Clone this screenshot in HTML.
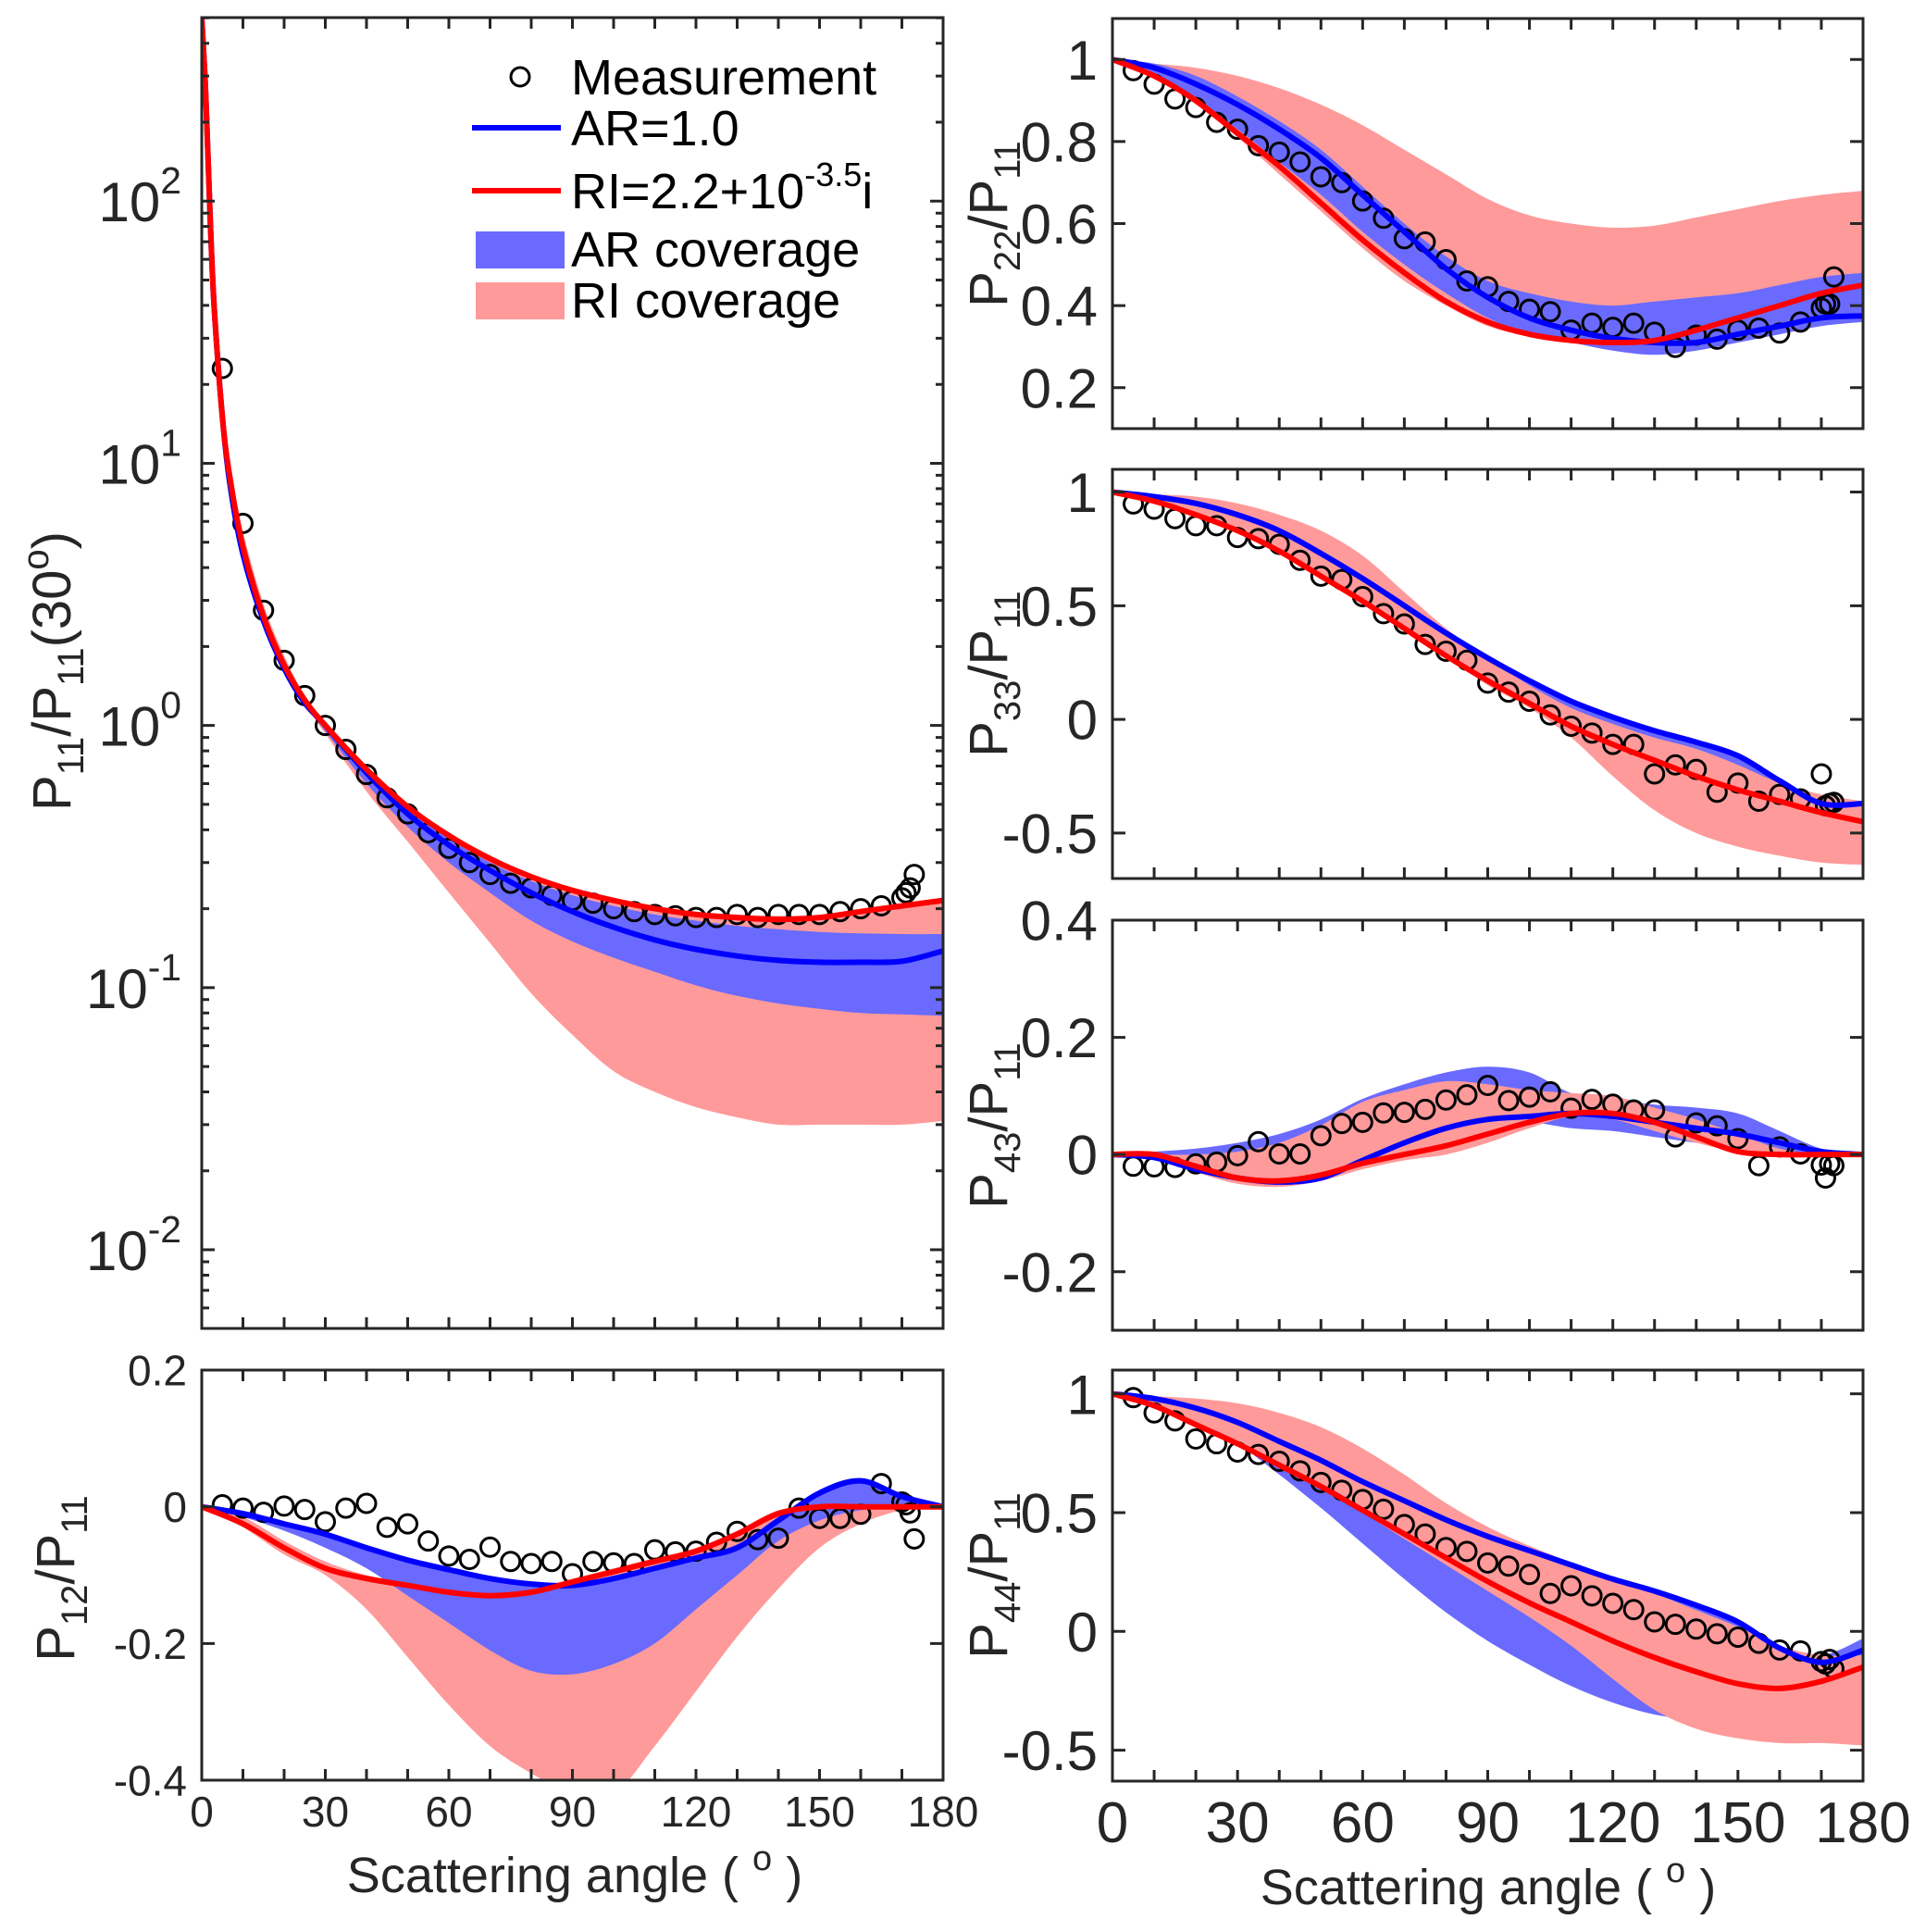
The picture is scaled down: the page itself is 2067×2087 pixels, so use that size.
<!DOCTYPE html>
<html><head><meta charset="utf-8"><style>
html,body{margin:0;padding:0;background:#fff}
svg{display:block}
text{font-family:"Liberation Sans",Arial,sans-serif;fill:#262626}
</style></head><body>
<svg id="fig" width="2067" height="2087" viewBox="0 0 2067 2087" xmlns="http://www.w3.org/2000/svg">
<defs id="defs"></defs>
<g id="root"></g>
<g>
  <text transform="translate(76,725) rotate(-90)" text-anchor="middle" font-size="58">P<tspan font-size="40" dy="14">11</tspan><tspan dy="-14">/P</tspan><tspan font-size="40" dy="14">11</tspan><tspan dy="-14">(30</tspan><tspan font-size="40" dy="-24">o</tspan><tspan dy="24">)</tspan></text>
  <text transform="translate(80,1705) rotate(-90)" text-anchor="middle" font-size="58">P<tspan font-size="40" dy="14">12</tspan><tspan dy="-14">/P</tspan><tspan font-size="40" dy="14">11</tspan></text>
  <text transform="translate(1088,242) rotate(-90)" text-anchor="middle" font-size="58">P<tspan font-size="40" dy="14">22</tspan><tspan dy="-14">/P</tspan><tspan font-size="40" dy="14">11</tspan></text>
  <text transform="translate(1088,728) rotate(-90)" text-anchor="middle" font-size="58">P<tspan font-size="40" dy="14">33</tspan><tspan dy="-14">/P</tspan><tspan font-size="40" dy="14">11</tspan></text>
  <text transform="translate(1088,1216) rotate(-90)" text-anchor="middle" font-size="58">P<tspan font-size="40" dy="14">43</tspan><tspan dy="-14">/P</tspan><tspan font-size="40" dy="14">11</tspan></text>
  <text transform="translate(1088,1702) rotate(-90)" text-anchor="middle" font-size="58">P<tspan font-size="40" dy="14">44</tspan><tspan dy="-14">/P</tspan><tspan font-size="40" dy="14">11</tspan></text>
  <text x="621" y="2044" text-anchor="middle" font-size="54">Scattering angle ( <tspan font-size="38" dy="-24">o</tspan><tspan dy="24"> )</tspan></text>
  <text x="1608" y="2057" text-anchor="middle" font-size="54">Scattering angle ( <tspan font-size="38" dy="-24">o</tspan><tspan dy="24"> )</tspan></text>
</g>
<g>
  <circle cx="562" cy="83" r="10" fill="none" stroke="#000" stroke-width="3"></circle>
  <text x="617" y="102" font-size="54" style="fill:#000">Measurement</text>
  <line x1="510" y1="138" x2="606" y2="138" stroke="#0000ff" stroke-width="6"></line>
  <text x="617" y="157" font-size="54" style="fill:#000">AR=1.0</text>
  <line x1="510" y1="206" x2="606" y2="206" stroke="#ff0000" stroke-width="6"></line>
  <text x="617" y="225" font-size="54" style="fill:#000">RI=2.2+10<tspan font-size="36" dy="-24">-3.5</tspan><tspan dy="24">i</tspan></text>
  <rect x="514" y="250" width="96" height="40" fill="#6a6aff"></rect>
  <text x="617" y="288" font-size="54" style="fill:#000">AR coverage</text>
  <rect x="514" y="305" width="96" height="40" fill="#ff9a9a"></rect>
  <text x="617" y="343" font-size="54" style="fill:#000">RI coverage</text>
</g>
</svg>
<script>
// ---------------- data ----------------
const measAngles = [5,10,15,20,25,30,35,40,45,50,55,60,65,70,75,80,85,90,95,100,105,110,115,120,125,130,135,140,145,150,155,160,165,170,171,172,173];
const grid = [0,10,20,30,40,50,60,70,80,90,100,110,120,130,140,150,160,170,180];
const p11Angles = [0,1,2,3,5,7,10,15,20,25,30,40,50,60,70,80,90,100,110,120,130,140,150,160,170,180];
const xTicks = [0,30,60,90,120,150,180];

// P11/P11(30)
const p11Meas = [23,5.9,2.75,1.77,1.3,1.0,0.81,0.65,0.53,0.46,0.39,0.34,0.30,0.27,0.25,0.24,0.225,0.215,0.21,0.2,0.195,0.19,0.188,0.185,0.185,0.19,0.185,0.19,0.19,0.19,0.195,0.2,0.205,0.22,0.23,0.24,0.27];
const p11Red = [500,250,90,40,15,8.5,4.8,2.6,1.7,1.25,1.0,0.68,0.49,0.38,0.31,0.265,0.235,0.215,0.2,0.19,0.185,0.182,0.185,0.195,0.205,0.215];
const p11Blue = [500,250,90,40,15,8,4.5,2.5,1.65,1.22,1.0,0.66,0.46,0.35,0.28,0.23,0.195,0.17,0.152,0.14,0.132,0.127,0.125,0.125,0.126,0.138];
const p11ArUp = [500,250,90,40,15,8.5,4.8,2.6,1.7,1.25,1.0,0.68,0.48,0.37,0.3,0.255,0.225,0.205,0.19,0.18,0.172,0.167,0.163,0.161,0.16,0.16];
const p11ArLo = [500,250,90,40,14,7.5,4.2,2.4,1.6,1.2,0.95,0.6,0.41,0.3,0.23,0.18,0.15,0.13,0.115,0.102,0.093,0.087,0.083,0.08,0.079,0.078];
const p11RiUp = [500,260,95,42,16,9.5,5.5,2.9,1.85,1.3,1.02,0.7,0.5,0.39,0.32,0.27,0.24,0.22,0.205,0.195,0.19,0.188,0.19,0.2,0.21,0.22];
const p11RiLo = [500,240,85,38,14,7.5,4.2,2.4,1.6,1.2,0.93,0.56,0.36,0.23,0.148,0.095,0.066,0.048,0.04,0.035,0.032,0.03,0.03,0.03,0.03,0.031];
const p11YTicks = [-2,-1,0,1,2];

// P12/P11
const p12Meas = [0.003,-0.002,-0.008,0.001,-0.004,-0.022,-0.002,0.005,-0.03,-0.025,-0.05,-0.072,-0.077,-0.059,-0.08,-0.083,-0.08,-0.098,-0.08,-0.082,-0.083,-0.063,-0.066,-0.065,-0.052,-0.036,-0.048,-0.046,-0.002,-0.017,-0.017,-0.011,0.034,0.007,0.003,-0.009,-0.047];
const p12Blue = [0,-0.01,-0.025,-0.04,-0.06,-0.078,-0.092,-0.105,-0.113,-0.115,-0.105,-0.09,-0.075,-0.06,-0.02,0.02,0.038,0.015,0];
const p12Red = [0,-0.025,-0.06,-0.09,-0.105,-0.115,-0.125,-0.13,-0.125,-0.11,-0.095,-0.08,-0.065,-0.04,-0.01,0,0,0,0];
const p12ArUp = [0,-0.008,-0.022,-0.037,-0.057,-0.075,-0.09,-0.103,-0.111,-0.113,-0.103,-0.088,-0.072,-0.055,-0.015,0.025,0.042,0.018,0];
const p12ArLo = [0,-0.015,-0.035,-0.06,-0.09,-0.13,-0.17,-0.21,-0.24,-0.245,-0.23,-0.2,-0.15,-0.1,-0.05,-0.02,-0.005,0,0];
const p12RiUp = [0,-0.015,-0.05,-0.08,-0.1,-0.11,-0.12,-0.125,-0.12,-0.105,-0.09,-0.075,-0.06,-0.035,-0.005,0,0,0,0];
const p12RiLo = [0,-0.03,-0.07,-0.1,-0.15,-0.22,-0.29,-0.35,-0.39,-0.42,-0.42,-0.35,-0.27,-0.19,-0.12,-0.06,-0.025,-0.005,0];
const p12YTicks = [-0.4,-0.2,0,0.2];

// P22/P11
const p22Meas = [0.973,0.94,0.904,0.883,0.847,0.83,0.79,0.774,0.75,0.714,0.70,0.655,0.613,0.563,0.555,0.512,0.46,0.446,0.41,0.391,0.385,0.34,0.357,0.347,0.357,0.335,0.298,0.328,0.318,0.34,0.345,0.333,0.36,0.394,0.404,0.404,0.47];
const p22Blue = [1,0.98,0.94,0.89,0.83,0.76,0.67,0.58,0.49,0.42,0.37,0.34,0.32,0.31,0.31,0.33,0.35,0.37,0.375];
const p22Red = [1,0.96,0.9,0.82,0.74,0.65,0.56,0.48,0.41,0.36,0.33,0.315,0.31,0.315,0.34,0.37,0.4,0.43,0.45];
const p22ArUp = [1,0.99,0.96,0.91,0.85,0.78,0.69,0.6,0.52,0.46,0.43,0.41,0.4,0.41,0.42,0.43,0.45,0.47,0.48];
const p22ArLo = [1,0.96,0.9,0.83,0.75,0.67,0.58,0.5,0.43,0.37,0.33,0.31,0.29,0.28,0.29,0.31,0.33,0.35,0.36];
const p22RiUp = [1,0.99,0.98,0.96,0.93,0.89,0.84,0.78,0.72,0.66,0.62,0.6,0.59,0.595,0.615,0.635,0.655,0.67,0.68];
const p22RiLo = [1,0.96,0.89,0.81,0.72,0.63,0.54,0.46,0.4,0.35,0.325,0.31,0.31,0.33,0.36,0.39,0.41,0.43,0.44];
const p22YTicks = [0.2,0.4,0.6,0.8,1];

// P33/P11
const p33Meas = [0.948,0.925,0.883,0.852,0.852,0.8,0.795,0.77,0.7,0.63,0.615,0.54,0.465,0.42,0.33,0.3,0.26,0.16,0.12,0.08,0.02,-0.03,-0.06,-0.11,-0.11,-0.24,-0.2,-0.22,-0.32,-0.28,-0.36,-0.33,-0.35,-0.24,-0.38,-0.37,-0.365];
const p33Blue = [1,0.98,0.95,0.9,0.83,0.73,0.62,0.5,0.38,0.27,0.17,0.08,0.01,-0.05,-0.1,-0.16,-0.27,-0.37,-0.37];
const p33Red = [1,0.96,0.9,0.83,0.74,0.63,0.52,0.4,0.28,0.17,0.07,-0.03,-0.11,-0.18,-0.25,-0.31,-0.36,-0.41,-0.45];
const p33ArUp = [1,0.985,0.955,0.905,0.835,0.735,0.625,0.505,0.385,0.275,0.175,0.085,0.015,-0.045,-0.095,-0.155,-0.26,-0.36,-0.36];
const p33ArLo = [1,0.97,0.93,0.85,0.75,0.64,0.52,0.41,0.3,0.17,0.07,-0.03,-0.11,-0.18,-0.24,-0.3,-0.35,-0.38,-0.4];
const p33RiUp = [1,0.99,0.98,0.95,0.9,0.83,0.72,0.56,0.4,0.27,0.15,0.05,-0.02,-0.08,-0.13,-0.2,-0.28,-0.33,-0.36];
const p33RiLo = [1,0.96,0.9,0.83,0.74,0.63,0.52,0.4,0.28,0.15,0.05,-0.08,-0.25,-0.4,-0.5,-0.56,-0.6,-0.63,-0.64];
const p33YTicks = [-0.5,0,0.5,1];

// P43/P11
const p43Meas = [-0.02,-0.021,-0.022,-0.016,-0.013,-0.002,0.022,0.001,0.001,0.032,0.053,0.055,0.071,0.072,0.077,0.093,0.102,0.118,0.092,0.098,0.107,0.079,0.094,0.086,0.076,0.076,0.03,0.054,0.049,0.027,-0.019,0.013,0.001,-0.018,-0.04,-0.016,-0.019];
const p43Blue = [0,-0.005,-0.025,-0.04,-0.047,-0.04,-0.01,0.02,0.045,0.06,0.065,0.07,0.065,0.055,0.045,0.035,0.02,0.005,0];
const p43Red = [0,0,-0.02,-0.04,-0.045,-0.035,-0.015,0,0.015,0.035,0.055,0.07,0.07,0.055,0.03,0.005,0,0,0];
const p43ArUp = [0,0.005,0.01,0.02,0.035,0.06,0.095,0.12,0.14,0.15,0.14,0.105,0.095,0.085,0.08,0.07,0.04,0.01,0];
const p43ArLo = [0,-0.01,-0.03,-0.045,-0.05,-0.045,-0.02,0.01,0.035,0.05,0.055,0.045,0.04,0.03,0.02,0.01,0.005,0,0];
const p43RiUp = [0,0,0,0.005,0.02,0.05,0.09,0.11,0.125,0.12,0.11,0.105,0.1,0.08,0.06,0.035,0.01,0,0];
const p43RiLo = [0,-0.005,-0.03,-0.05,-0.055,-0.045,-0.025,-0.01,0,0.02,0.045,0.065,0.06,0.04,0.02,0.005,0,0,0];
const p43YTicks = [-0.2,0,0.2,0.4];

// P44/P11
const p44Meas = [0.984,0.92,0.886,0.81,0.79,0.755,0.745,0.716,0.676,0.627,0.594,0.555,0.514,0.45,0.41,0.353,0.337,0.288,0.275,0.24,0.16,0.192,0.15,0.118,0.092,0.04,0.03,0.01,-0.01,-0.024,-0.05,-0.078,-0.082,-0.127,-0.137,-0.118,-0.157];
const p44Blue = [1,0.98,0.94,0.88,0.8,0.72,0.63,0.55,0.47,0.4,0.34,0.28,0.22,0.17,0.11,0.04,-0.07,-0.13,-0.08];
const p44Red = [1,0.95,0.87,0.79,0.7,0.61,0.51,0.41,0.31,0.21,0.12,0.04,-0.04,-0.11,-0.17,-0.22,-0.24,-0.21,-0.15];
const p44ArUp = [1,0.985,0.945,0.885,0.805,0.725,0.635,0.555,0.475,0.405,0.345,0.285,0.225,0.175,0.115,0.045,-0.06,-0.1,-0.03];
const p44ArLo = [1,0.96,0.89,0.79,0.66,0.52,0.37,0.22,0.08,-0.04,-0.14,-0.23,-0.3,-0.35,-0.37,-0.36,-0.35,-0.4,-0.42];
const p44RiUp = [1,0.99,0.98,0.96,0.92,0.86,0.77,0.66,0.54,0.44,0.36,0.29,0.22,0.16,0.09,0.02,-0.06,-0.1,-0.1];
const p44RiLo = [1,0.95,0.87,0.79,0.7,0.61,0.5,0.39,0.28,0.17,0.06,-0.06,-0.2,-0.33,-0.41,-0.45,-0.47,-0.47,-0.48];
const p44YTicks = [-0.5,0,0.5,1];

// ---------------- drawing ----------------
const NS = "http://www.w3.org/2000/svg";
const root = document.getElementById('root');
const defs = document.getElementById('defs');
const BLUE_FILL = "#6a6aff", PINK_FILL = "#ff9a9a", INK = "#262626";

function mk(tag, attrs, parent){
  const e = document.createElementNS(NS, tag);
  for (const k in attrs) e.setAttribute(k, attrs[k]);
  (parent || root).appendChild(e);
  return e;
}
function spline(pts){
  let d = "M" + pts[0][0].toFixed(1) + "," + pts[0][1].toFixed(1);
  for (let i = 0; i < pts.length - 1; i++){
    const p0 = pts[i-1] || pts[i], p1 = pts[i], p2 = pts[i+1], p3 = pts[i+2] || p2;
    const c1x = p1[0] + (p2[0]-p0[0])/6, c1y = p1[1] + (p2[1]-p0[1])/6;
    const c2x = p2[0] - (p3[0]-p1[0])/6, c2y = p2[1] - (p3[1]-p1[1])/6;
    d += "C" + c1x.toFixed(1)+","+c1y.toFixed(1)+" "+c2x.toFixed(1)+","+c2y.toFixed(1)+" "+p2[0].toFixed(1)+","+p2[1].toFixed(1);
  }
  return d;
}
function splineCont(pts){ return "L" + spline(pts).slice(1); }

let clipId = 0;
function panel(cfg){
  const {name, x0, x1, y0, y1, yScale, angles, meas, blue, red, arUp, arLo, riUp, riLo, yTicks, tickFont, tickFmt, xLabels, xFont, xLabelY, minorLog, pinkTop} = cfg;
  const xs = a => x0 + a/180*(x1-x0);
  const g = mk('g', {});
  
  
  const cid = 'clip' + (clipId++);
  const cp = mk('clipPath', {id: cid}, defs);
  mk('rect', {x: x0, y: y0, width: x1-x0, height: y1-y0}, cp);
  const plot = mk('g', {'clip-path': 'url(#' + cid + ')'}, g);
  
  

  function band(up, lo, fill, nm){
    const pu = angles.map((a,i)=>[xs(a), yScale(up[i])]);
    const pl = angles.map((a,i)=>[xs(a), yScale(lo[i])]).reverse();
    const p = mk('path', {d: spline(pu) + splineCont(pl) + "Z", fill: fill, stroke: 'none'}, plot);
    
    
  }
  if (pinkTop){
    band(arUp, arLo, BLUE_FILL, name + '-ar-coverage');
    band(riUp, riLo, PINK_FILL, name + '-ri-coverage');
  } else {
    band(riUp, riLo, PINK_FILL, name + '-ri-coverage');
    band(arUp, arLo, BLUE_FILL, name + '-ar-coverage');
  }

  const mg = mk('g', {fill: 'none', stroke: '#000', 'stroke-width': 3}, plot);
  
  
  measAngles.forEach((a,i)=>{
    const c = mk('circle', {cx: xs(a), cy: yScale(meas[i]), r: 10}, mg);
    
    
  });

  const bl = mk('path', {d: spline(angles.map((a,i)=>[xs(a), yScale(blue[i])])), fill: 'none', stroke: '#0000ff', 'stroke-width': 6, 'stroke-linejoin': 'round'}, plot);
  
  
  const rl = mk('path', {d: spline(angles.map((a,i)=>[xs(a), yScale(red[i])])), fill: 'none', stroke: '#ff0000', 'stroke-width': 6, 'stroke-linejoin': 'round'}, plot);
  
  

  const box = mk('rect', {x: x0, y: y0, width: x1-x0, height: y1-y0, fill: 'none', stroke: INK, 'stroke-width': 3}, g);
  
  

  let dx = "";
  for (let a = 10; a < 180; a += 10){
    const X = xs(a);
    dx += "M"+X+","+y1+"v-12M"+X+","+y0+"v12";
  }
  const xt = mk('path', {d: dx, stroke: INK, 'stroke-width': 3}, g);
  
  

  let dy = "";
  yTicks.forEach(v => { const Y = minorLog ? yScale(Math.pow(10, v)) : yScale(v); dy += "M"+x0+","+Y+"h14M"+x1+","+Y+"h-14"; });
  if (minorLog){
    for (let e = -3; e <= 2; e++) for (let m = 2; m <= 9; m++){
      const Y = yScale(m * Math.pow(10, e));
      if (Y > y0 && Y < y1) dy += "M"+x0+","+Y+"h8M"+x1+","+Y+"h-8";
    }
  }
  const yt = mk('path', {d: dy, stroke: INK, 'stroke-width': 3}, g);
  
  

  yTicks.forEach(v => {
    if (minorLog){
      const Y = yScale(Math.pow(10, v));
      const t = mk('text', {x: x0 - 22, y: Y + 22, 'text-anchor': 'end', 'font-size': tickFont}, g);
      
      
      const s1 = mk('tspan', {}, t); s1.textContent = '10';
      const s2 = mk('tspan', {'font-size': tickFont*0.68, dy: -tickFont*0.5}, t); s2.textContent = String(v);
    } else {
      const t = mk('text', {x: x0 - 16, y: yScale(v) + tickFont*0.36, 'text-anchor': 'end', 'font-size': tickFont}, g);
      
      
      t.textContent = tickFmt(v);
    }
  });
  if (xLabels){
    xTicks.forEach(a => {
      const t = mk('text', {x: xs(a), y: xLabelY, 'text-anchor': 'middle', 'font-size': xFont}, g);
      
      
      t.textContent = String(a);
    });
  }
  return g;
}
const fmt = v => (Math.abs(v) < 1e-9 ? "0" : String(v));
function linScale(y0, y1, vTop, vBot){ return v => y0 + (vTop - v)/(vTop - vBot)*(y1 - y0); }

const P11 = {x0: 218, x1: 1019, y0: 19, y1: 1435};
panel({name: 'p11', ...P11, yScale: v => P11.y0 + (2.7 - Math.log10(v))/5*(P11.y1-P11.y0),
  angles: p11Angles, meas: p11Meas, blue: p11Blue, red: p11Red, arUp: p11ArUp, arLo: p11ArLo, riUp: p11RiUp, riLo: p11RiLo,
  yTicks: p11YTicks, tickFont: 60, minorLog: true});

panel({name: 'p12', x0: 218, x1: 1019, y0: 1480, y1: 1923, yScale: linScale(1480, 1923, 0.2, -0.4),
  angles: grid, meas: p12Meas, blue: p12Blue, red: p12Red, arUp: p12ArUp, arLo: p12ArLo, riUp: p12RiUp, riLo: p12RiLo,
  yTicks: p12YTicks, tickFont: 46, tickFmt: fmt, xLabels: true, xFont: 46, xLabelY: 1973});

panel({name: 'p22', x0: 1202, x1: 2013, y0: 20, y1: 463, yScale: linScale(20, 463, 1.1, 0.1),
  angles: grid, meas: p22Meas, blue: p22Blue, red: p22Red, arUp: p22ArUp, arLo: p22ArLo, riUp: p22RiUp, riLo: p22RiLo,
  yTicks: p22YTicks, tickFont: 60, tickFmt: fmt});

panel({name: 'p33', x0: 1202, x1: 2013, y0: 507, y1: 949, yScale: linScale(507, 949, 1.1, -0.7),
  angles: grid, meas: p33Meas, blue: p33Blue, red: p33Red, arUp: p33ArUp, arLo: p33ArLo, riUp: p33RiUp, riLo: p33RiLo,
  yTicks: p33YTicks, tickFont: 60, tickFmt: fmt, pinkTop: true});

panel({name: 'p43', x0: 1202, x1: 2013, y0: 994, y1: 1437, yScale: linScale(994, 1437, 0.4, -0.3),
  angles: grid, meas: p43Meas, blue: p43Blue, red: p43Red, arUp: p43ArUp, arLo: p43ArLo, riUp: p43RiUp, riLo: p43RiLo,
  yTicks: p43YTicks, tickFont: 60, tickFmt: fmt, pinkTop: true});

panel({name: 'p44', x0: 1202, x1: 2013, y0: 1480, y1: 1924, yScale: linScale(1480, 1924, 1.1, -0.63),
  angles: grid, meas: p44Meas, blue: p44Blue, red: p44Red, arUp: p44ArUp, arLo: p44ArLo, riUp: p44RiUp, riLo: p44RiLo,
  yTicks: p44YTicks, tickFont: 60, tickFmt: fmt, xLabels: true, xFont: 62, xLabelY: 1990, pinkTop: true});
</script>
</body></html>
